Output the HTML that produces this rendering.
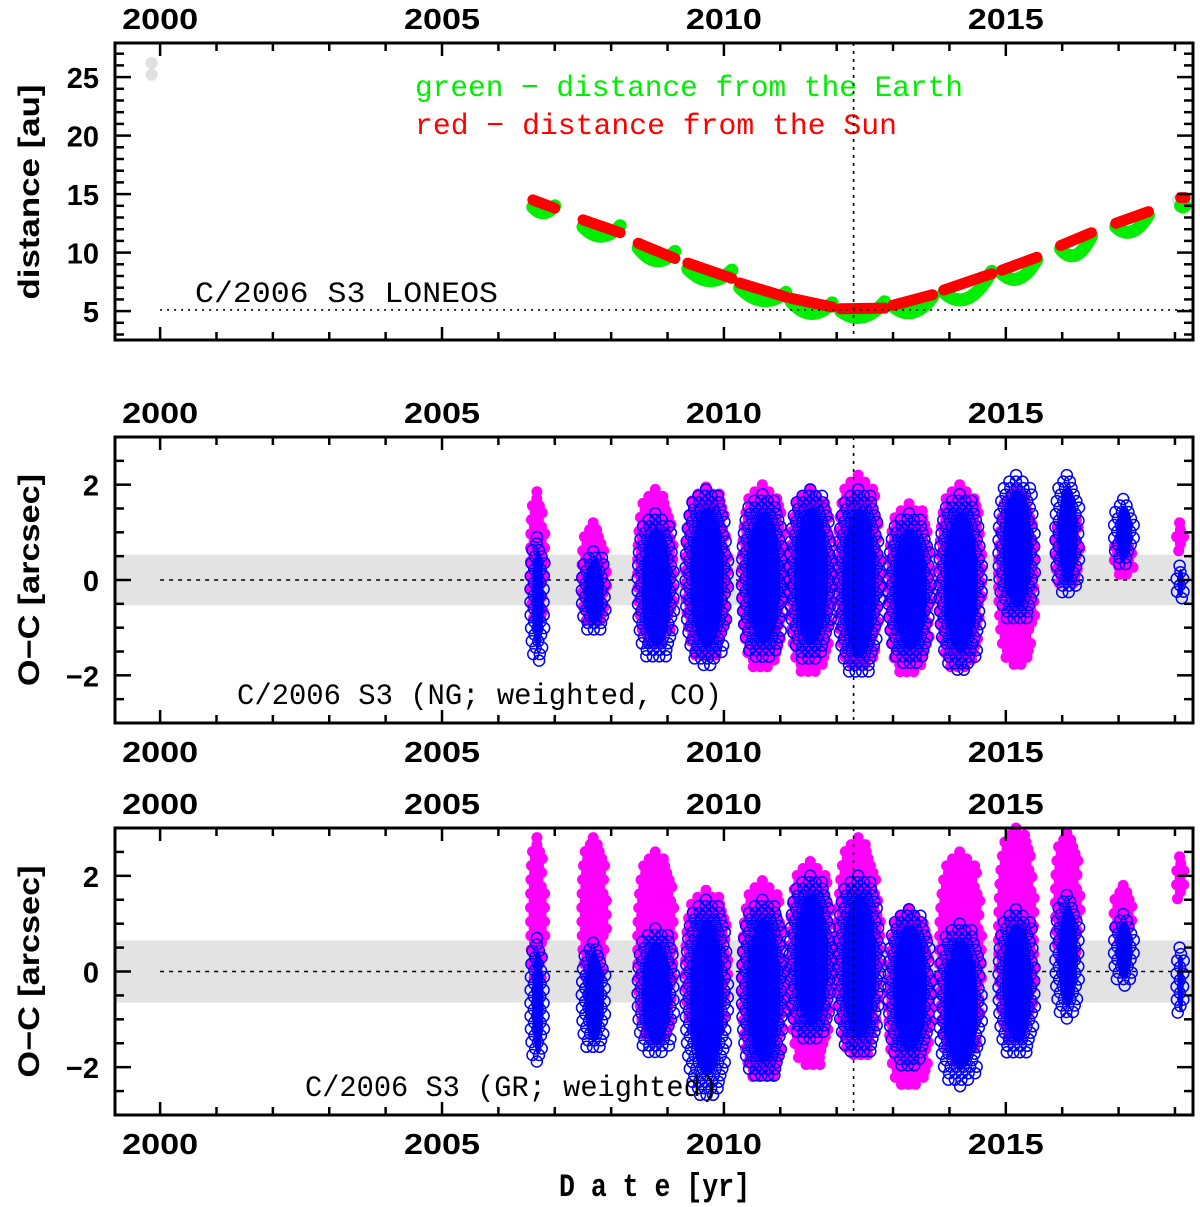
<!DOCTYPE html>
<html><head><meta charset="utf-8"><title>C/2006 S3 LONEOS</title>
<style>
html,body{margin:0;padding:0;background:#fff;}
svg{display:block;}
</style></head>
<body>
<svg id="chart" xmlns="http://www.w3.org/2000/svg" width="1200" height="1207" viewBox="0 0 1200 1207"></svg>
<script>
// ---------- data ----------
const xTickYears = [2000, 2005, 2010, 2015];
// Panel 1: distance seasons
const seasonStart = [2006.61, 2007.5, 2008.48, 2009.36, 2010.28, 2011.19, 2012.07, 2013.0, 2013.9, 2014.93, 2015.97, 2016.95, 2018.1];
const seasonEnd   = [2007.0, 2008.16, 2009.13, 2010.14, 2011.1, 2011.92, 2012.85, 2013.7, 2014.75, 2015.55, 2016.52, 2017.53, 2018.18];
const sunStart    = [14.5, 12.8, 10.8, 9.1, 7.4, 6.1, 5.2, 5.5, 6.8, 8.5, 10.6, 12.5, 14.7];
const sunEnd      = [13.8, 11.7, 9.5, 7.8, 6.2, 5.35, 5.25, 6.4, 8.2, 9.6, 11.7, 13.5, 14.7];
const earthStart  = [13.9, 12.2, 10.4, 8.6, 7.0, 5.8, 5.0, 5.4, 6.6, 8.2, 10.3, 12.2, 14.0];
const earthMid    = [13.4, 11.4, 9.3, 7.6, 5.9, 4.8, 4.5, 4.9, 6.1, 7.8, 9.8, 11.8, 13.9];
const earthEnd    = [14.0, 12.3, 10.1, 8.5, 6.6, 5.7, 5.8, 6.2, 8.4, 9.4, 11.4, 13.2, 14.0];
const grayDates   = [1999.85, 1999.85, 2018.05];
const grayDist    = [26.2, 25.2, 14.5];
const perihelionYear = 2012.3;
const refDistance = 5.1;
// Panels 2/3: O-C season clouds
const ocCenter = [2006.7, 2007.7, 2008.8, 2009.7, 2010.7, 2011.55, 2012.4, 2013.3, 2014.2, 2015.2, 2016.1, 2017.1, 2018.1];
const ocHalfWidth = [0.13, 0.22, 0.33, 0.38, 0.38, 0.38, 0.38, 0.38, 0.38, 0.33, 0.22, 0.18, 0.06];
const ngMagHi = [1.85, 1.2, 1.9, 1.95, 2.0, 1.9, 2.2, 1.6, 2.0, 1.9, 1.4, 1.0, 1.2];
const ngMagLo = [-0.9, -1.0, -1.4, -1.7, -1.9, -2.0, -1.9, -2.0, -1.9, -1.8, -0.2, 0.1, 0.6];
const ngBlueHi = [0.9, 0.6, 1.4, 1.9, 1.8, 1.9, 1.9, 1.4, 1.8, 2.2, 2.2, 1.7, 0.3];
const ngBlueLo = [-1.7, -1.1, -1.7, -1.8, -1.7, -1.7, -2.0, -1.8, -1.9, -0.9, -0.3, 0.3, -0.4];
const grMagHi = [2.8, 2.8, 2.5, 1.7, 1.9, 2.3, 2.8, 1.3, 2.5, 3.0, 2.9, 1.8, 2.4];
const grMagLo = [-0.2, -0.3, -1.5, -1.5, -2.3, -2.0, -1.8, -2.5, -1.9, -1.5, 0.1, 0.6, 1.4];
const grBlueHi = [0.7, 0.6, 0.9, 1.5, 1.5, 2.0, 2.0, 1.3, 1.0, 1.3, 1.6, 1.2, 0.5];
const grBlueLo = [-2.0, -1.7, -1.8, -2.6, -2.3, -1.5, -1.8, -2.0, -2.4, -1.8, -1.0, -0.3, -1.0];
const ngBand = 0.53, grBand = 0.65;
const distTicks = [5, 10, 15, 20, 25];
const ocTicks = [-2, 0, 2];

// ---------- layout ----------
const NS = 'http://www.w3.org/2000/svg';
const svg = document.getElementById('chart');
const XL = 115, XR = 1193, YEAR0 = 1999.2, YEAR1 = 2018.32;
const xs = y => XL + (y - YEAR0) / (YEAR1 - YEAR0) * (XR - XL);
function mk(tag, attrs, parent) {
  const e = document.createElementNS(NS, tag);
  for (const k in attrs) e.setAttribute(k, attrs[k]);
  (parent || svg).appendChild(e);
  return e;
}
function panel(top, bot, vmin, vmax, name) {
  const g = mk('g', {});
  
  
  const ys = v => bot - (v - vmin) / (vmax - vmin) * (bot - top);
  return {g, ys, top, bot};
}
function frame(p, majorY, minorStep, vmin, vmax, topLabels, botLabels) {
  const g = mk('g', {}, p.g);
  
  
  for (let yr = 2000; yr <= 2018; yr++) {
    const x = xs(yr), L = (yr % 5 === 0) ? 13 : 8;
    mk('line', {x1: x, x2: x, y1: p.top, y2: p.top + L, stroke: '#000', 'stroke-width': 2.5}, g);
    mk('line', {x1: x, x2: x, y1: p.bot, y2: p.bot - L, stroke: '#000', 'stroke-width': 2.5}, g);
  }
  for (let v = Math.ceil(vmin / minorStep) * minorStep; v <= vmax + 1e-9; v += minorStep) {
    const y = p.ys(v);
    const isMaj = majorY.some(m => Math.abs(m - v) < 1e-6);
    const L = isMaj ? 16 : 9;
    mk('line', {x1: XL, x2: XL + L, y1: y, y2: y, stroke: '#000', 'stroke-width': 2.5}, g);
    mk('line', {x1: XR, x2: XR - L, y1: y, y2: y, stroke: '#000', 'stroke-width': 2.5}, g);
  }
  majorY.forEach(v => {
    const t = mk('text', {x: 99, y: p.ys(v) + 11, 'text-anchor': 'end', 'font-family': 'Liberation Sans, sans-serif', 'font-weight': 'bold', 'font-size': 29}, g);
    t.textContent = (v < 0 ? '\u2212' + (-v) : v);
    
    
  });
  xTickYears.forEach(yr => {
    if (topLabels) {
      const t = mk('text', {x: xs(yr), y: p.top - 14, 'text-anchor': 'middle', 'font-family': 'Liberation Sans, sans-serif', 'font-weight': 'bold', 'font-size': 29, textLength: 76, lengthAdjust: 'spacingAndGlyphs'}, g);
      t.textContent = yr;
      
      
    }
    if (botLabels) {
      const t = mk('text', {x: xs(yr), y: p.bot + 39, 'text-anchor': 'middle', 'font-family': 'Liberation Sans, sans-serif', 'font-weight': 'bold', 'font-size': 29, textLength: 76, lengthAdjust: 'spacingAndGlyphs'}, g);
      t.textContent = yr;
      
      
    }
  });
  mk('rect', {x: XL, y: p.top, width: XR - XL, height: p.bot - p.top, fill: 'none', stroke: '#000', 'stroke-width': 3}, g);
}
function ytitle(text, cy, len, name) {
  const t = mk('text', {x: 0, y: 0, transform: `translate(39,${cy}) rotate(-90)`, 'text-anchor': 'middle', 'font-family': 'Liberation Sans, sans-serif', 'font-weight': 'bold', 'font-size': 30, textLength: len, lengthAdjust: 'spacingAndGlyphs'});
  t.textContent = text;
  
  
}
function note(text, x, y, len, color, name, size) {
  const t = mk('text', {x, y, 'font-family': 'Liberation Mono, monospace', 'font-size': size || 30, fill: color, textLength: len, lengthAdjust: 'spacingAndGlyphs'});
  t.textContent = text;
  
  
}

// ---------- panel 1 ----------
const p1 = panel(43, 340, (369.6 - 340) / 11.7, (369.6 - 43) / 11.7, 'distance-panel');
const d1 = mk('g', {}, p1.g);


for (let i = 0; i < grayDates.length; i++) {
  const c = mk('circle', {cx: xs(grayDates[i]), cy: p1.ys(grayDist[i]), r: 6, fill: '#e0e0e0'}, d1);
  
  
}
for (let i = 0; i < seasonStart.length; i++) {
  const xm = (xs(seasonStart[i]) + xs(seasonEnd[i])) / 2;
  const gpath = mk('path', {d: `M${xs(seasonStart[i])},${p1.ys(earthStart[i])} Q${xm},${2 * p1.ys(earthMid[i]) - (p1.ys(earthStart[i]) + p1.ys(earthEnd[i])) / 2} ${xs(seasonEnd[i])},${p1.ys(earthEnd[i])}`, fill: 'none', stroke: '#00ee00', 'stroke-width': 13, 'stroke-linecap': 'round'}, d1);
  
  
}
for (let i = 0; i < seasonStart.length; i++) {
  const l = mk('line', {x1: xs(seasonStart[i]), y1: p1.ys(sunStart[i]), x2: xs(seasonEnd[i]), y2: p1.ys(sunEnd[i]), stroke: '#ff0000', 'stroke-width': 11, 'stroke-linecap': 'round'}, d1);
  
  
}
mk('line', {x1: xs(2000), x2: XR, y1: p1.ys(refDistance), y2: p1.ys(refDistance), stroke: '#000', 'stroke-width': 1.6, 'stroke-dasharray': '2 5'}, p1.g);
frame(p1, distTicks, 1, (369.6 - 340) / 11.7, (369.6 - 43) / 11.7, true, false);
ytitle('distance [au]', 192, 215, 'y-axis-title-distance');
note('green \u2212 distance from the Earth', 415, 96, 548, '#00ee00', 'legend-green');
note('red \u2212 distance from the Sun', 415, 134, 482, '#ff0000', 'legend-red');
note('C/2006 S3 LONEOS', 195, 302, 303, '#000', 'panel1-label');

// ---------- O-C panels ----------
function ocPanel(top, bot, band, magHi, magLo, blueHi, blueLo, label, lx, llen, name) {
  const p = panel(top, bot, -3, 3, name);
  mk('rect', {x: XL, y: p.ys(band), width: XR - XL, height: p.ys(-band) - p.ys(band), fill: '#e3e3e3'}, p.g);
  mk('line', {x1: xs(2000), x2: XR, y1: p.ys(0), y2: p.ys(0), stroke: '#000', 'stroke-width': 1.6, 'stroke-dasharray': '4 5'}, p.g);
  const gm = mk('g', {}, p.g);
  
  
  const gb = mk('g', {}, p.g);
  
  
  for (let i = 0; i < ocCenter.length; i++) {
    const geom = (hi, lo) => {
      const cx = xs(ocCenter[i]), rx = Math.max(xs(ocCenter[i] + ocHalfWidth[i]) - cx, 4);
      const yT = p.ys(hi), yB = p.ys(lo);
      return {cx, rx, yT, yB, cy: (yT + yB) / 2, ry: Math.max((yB - yT) / 2, 3)};
    };
    const fill = (G, step, draw) => {
      let row = 0;
      for (let y = G.yT; y <= G.yB + 0.1; y += step, row++) {
        const f = Math.sqrt(Math.max(0, 1 - Math.pow((y - G.cy) / G.ry, 2)));
        const w = Math.max(G.rx * Math.pow(f, 0.6), 1);
        const off = (row % 2) * step / 2;
        for (let x = G.cx - w + off; x <= G.cx + w + 0.1; x += step) draw(x, y);
      }
    };
    const Gm = geom(magHi[i], magLo[i]);
    fill(Gm, 7, (x, y) => {
      const c = mk('circle', {cx: x.toFixed(1), cy: y.toFixed(1), r: 5.5, fill: '#ff00ff'}, gm);
      
      
    });
    const Gb = geom(blueHi[i], blueLo[i]);
    // dense solid core
    const core = mk('ellipse', {cx: Gb.cx, cy: Gb.cy, rx: Gb.rx * 0.8, ry: Gb.ry * 0.8, fill: '#0000ff'}, gb);
    
    
    fill(Gb, 6.5, (x, y) => {
      const c = mk('circle', {cx: x.toFixed(1), cy: y.toFixed(1), r: 5.5, fill: 'none', stroke: '#0000ff', 'stroke-width': 1.5}, gb);
      
      
    });
  }
  frame(p, ocTicks, 0.5, -3, 3, true, true);
  ytitle('O\u2212C [arcsec]', (top + bot) / 2, 212, 'y-axis-title-oc');
  note(label, lx, bot - 19, llen, '#000', 'panel-label');
  return p;
}
ocPanel(437, 723, ngBand, ngMagHi, ngMagLo, ngBlueHi, ngBlueLo, 'C/2006 S3 (NG; weighted, CO)', 237, 485, 'oc-ng-panel');
ocPanel(828, 1115, grBand, grMagHi, grMagLo, grBlueHi, grBlueLo, 'C/2006 S3 (GR; weighted)', 305, 413, 'oc-gr-panel');

// perihelion vertical lines
[[43, 340], [437, 723], [828, 1115]].forEach(r => {
  const l = mk('line', {x1: xs(perihelionYear), x2: xs(perihelionYear), y1: r[0], y2: r[1], stroke: '#000', 'stroke-width': 1.6, 'stroke-dasharray': '3 5'});
  
  
});
const xt = mk('text', {x: 559, y: 1196, 'font-family': 'Liberation Mono, monospace', 'font-weight': 'bold', 'font-size': 32, textLength: 191, lengthAdjust: 'spacingAndGlyphs'});
xt.textContent = 'D a t e [yr]';


</script>
</body></html>
